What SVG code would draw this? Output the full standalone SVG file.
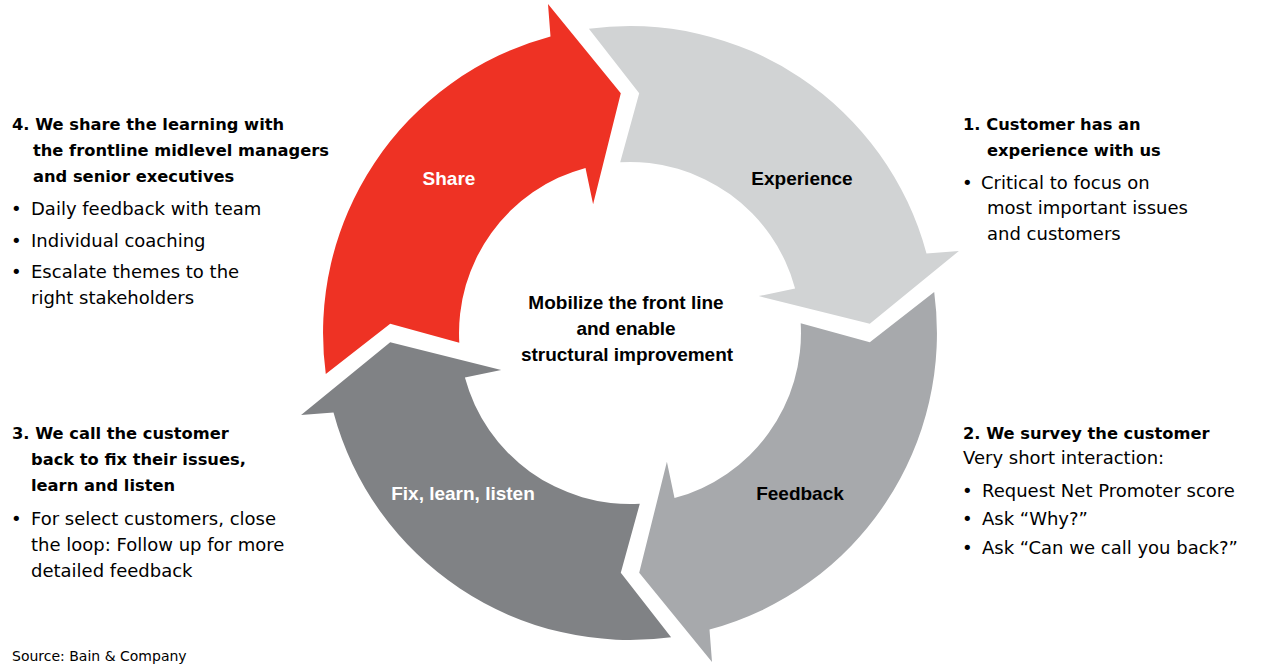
<svg xmlns="http://www.w3.org/2000/svg" xmlns:xlink="http://www.w3.org/1999/xlink" width="1262" height="664" viewBox="0 0 1262 664">
<style>
.lbl{font-family:"Liberation Sans",Arial,sans-serif;font-weight:bold;font-size:19px;text-anchor:middle}
.w{fill:#ffffff}
.k{fill:#000000}
.hd{font-family:"DejaVu Sans",sans-serif;font-weight:bold;font-size:16.3px;fill:#000}
.tx{font-family:"DejaVu Sans",sans-serif;font-size:18px;fill:#000}
.src{font-family:"DejaVu Sans",sans-serif;font-size:14px;fill:#000}
</style>
<defs>
<path id="arrowShape" d="M588.9,28.8 A307,307 0 0 1 926.5,253.5 L958.9,251 L869.8,323.8 L758.8,296.1 L795.1,288.5 A171,171 0 0 0 620.2,162.3 L639.2,93.2 Z"/>
</defs>
<rect width="1262" height="664" fill="#ffffff"/>

<g id="experience">
<use xlink:href="#arrowShape" href="#arrowShape" fill="#D1D3D4"/>
<text class="lbl k" x="802" y="185">Experience</text>
</g>
<g id="feedback">
<use xlink:href="#arrowShape" href="#arrowShape" fill="#A7A9AC" transform="rotate(90 630 333)"/>
<text class="lbl k" x="800" y="500">Feedback</text>
</g>
<g id="fix">
<use xlink:href="#arrowShape" href="#arrowShape" fill="#808285" transform="rotate(180 630 333)"/>
<text class="lbl w" x="463" y="500">Fix, learn, listen</text>
</g>
<g id="share">
<use xlink:href="#arrowShape" href="#arrowShape" fill="#EE3224" transform="rotate(270 630 333)"/>
<text class="lbl w" x="449" y="185">Share</text>
</g>

<g id="center">
<text class="lbl k" x="626" y="309">Mobilize the front line</text>
<text class="lbl k" x="626" y="335">and enable</text>
<text class="lbl k" x="627" y="361">structural improvement</text>
</g>

<g id="note-share">
<text class="hd" x="12" y="130">4. We share the learning with</text>
<text class="hd" x="33" y="156">the frontline midlevel managers</text>
<text class="hd" x="33" y="182">and senior executives</text>
<text class="tx" x="11" y="215">•</text><text class="tx" x="31" y="215">Daily feedback with team</text>
<text class="tx" x="11" y="247">•</text><text class="tx" x="31" y="247">Individual coaching</text>
<text class="tx" x="11" y="278">•</text><text class="tx" x="31" y="278">Escalate themes to the</text>
<text class="tx" x="31" y="304">right stakeholders</text>
</g>

<g id="note-fix">
<text class="hd" x="12" y="439">3. We call the customer</text>
<text class="hd" x="31" y="465">back to fix their issues,</text>
<text class="hd" x="31" y="491">learn and listen</text>
<text class="tx" x="11" y="525">•</text><text class="tx" x="31" y="525">For select customers, close</text>
<text class="tx" x="31" y="551">the loop: Follow up for more</text>
<text class="tx" x="31" y="577">detailed feedback</text>
</g>

<g id="note-experience">
<text class="hd" x="963" y="130">1. Customer has an</text>
<text class="hd" x="987" y="156">experience with us</text>
<text class="tx" x="962" y="189">•</text><text class="tx" x="981" y="189">Critical to focus on</text>
<text class="tx" x="987" y="214">most important issues</text>
<text class="tx" x="987" y="240">and customers</text>
</g>

<g id="note-feedback">
<text class="hd" x="963" y="439">2. We survey the customer</text>
<text class="tx" x="963" y="464">Very short interaction:</text>
<text class="tx" x="962" y="497">•</text><text class="tx" x="982" y="497">Request Net Promoter score</text>
<text class="tx" x="962" y="525">•</text><text class="tx" x="982" y="525">Ask “Why?”</text>
<text class="tx" x="962" y="554">•</text><text class="tx" x="982" y="554">Ask “Can we call you back?”</text>
</g>

<text class="src" x="12" y="661">Source: Bain &amp; Company</text>
</svg>
